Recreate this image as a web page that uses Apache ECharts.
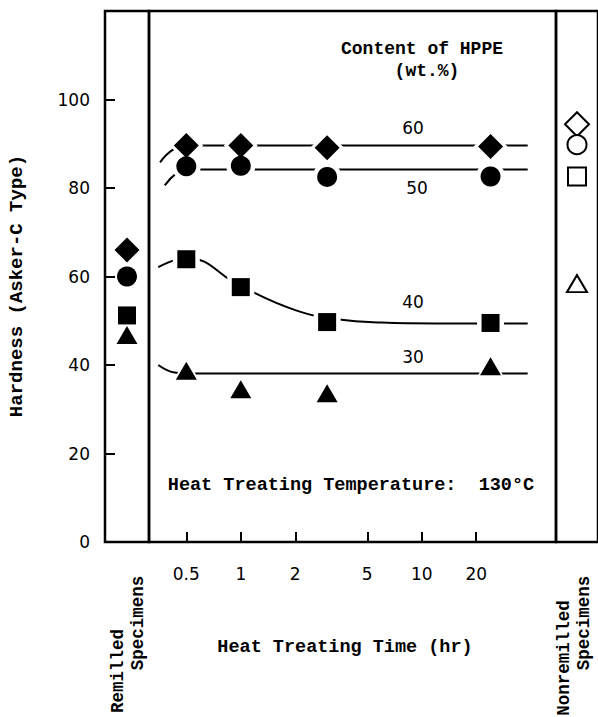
<!DOCTYPE html>
<html>
<head>
<meta charset="utf-8">
<script src="https://cdn.jsdelivr.net/npm/echarts@6/dist/echarts.min.js"></script>
<style>
  html, body { margin: 0; padding: 0; background: #fff; }
  #chart { width: 598px; height: 717px; }
</style>
</head>
<body>
<div id="chart"></div>
<script>
// HPPE content series, in the order 60, 50, 40, 30 wt.%
const contents = ['60', '50', '40', '30'];

// Heat treating times (hr) and hardness (Asker-C) at 130 °C
const times = [0.5, 1, 3, 24];
const hardness60 = [89.6, 89.6, 89.1, 89.4];
const hardness50 = [84.9, 85.0, 82.5, 82.6];
const hardness40 = [63.9, 57.6, 49.7, 49.5];
const hardness30 = [38.7, 34.5, 33.6, 39.7];

// Remilled specimens (before heat treating) and nonremilled specimens
const remilled = [66, 60, 51.2, 46.8];
const nonremilled = [94.4, 89.8, 82.6, 58.4];

// Hand-drawn trend curves: [time (hr), hardness]
const curve60 = [[0.358, 85.8], [0.42, 88.6], [0.5, 89.6], [1, 89.6], [3, 89.6], [24, 89.6], [38.5, 89.6]];
const curve50 = [[0.38, 80.6], [0.44, 83.3], [0.5, 84.2], [1, 84.2], [3, 84.2], [24, 84.2], [38.5, 84.2]];
const curve40 = [[0.35, 62.1], [0.5, 64.2], [1, 57.8], [2, 52.4], [3.5, 50.3], [6, 49.6], [12, 49.4], [38.5, 49.4]];
const curve30 = [[0.35, 40.0], [0.43, 38.3], [0.5, 38.1], [3, 38.1], [24, 38.1], [38.5, 38.1]];

// Axis ticks
const timeTicks = [0.5, 1, 2, 5, 10, 20];
const hardnessTicks = [0, 20, 40, 60, 80, 100];

const MONO = '"Liberation Mono", "DejaVu Sans Mono", monospace';
const SANS = '"DejaVu Sans", "Noto Sans", sans-serif';

const symbols = ['diamond', 'circle', 'rect', 'triangle'];
const solidSizes = [[25, 25], [20, 20], [18, 18], [21, 18]];
const hollowSizes = [[24, 24], [19, 19], [18, 18], [20, 17]];
const timeSeries = [hardness60, hardness50, hardness40, hardness30];
const curves = [curve60, curve50, curve40, curve30];

const series = [];

// trend curves in the heat-treating panel
curves.forEach((c, i) => {
  series.push({
    name: 'curve ' + contents[i],
    type: 'line',
    xAxisIndex: 1, yAxisIndex: 1,
    data: c,
    smooth: 0.45,
    showSymbol: false,
    silent: true,
    lineStyle: { color: '#000', width: 2 },
    z: 1
  });
});

// white halos that break the curves around each marker
timeSeries.forEach((vals, i) => {
  series.push({
    name: 'halo ' + contents[i],
    type: 'scatter',
    xAxisIndex: 1, yAxisIndex: 1,
    data: times.map((t, k) => [t, vals[k]]),
    symbol: symbols[i],
    symbolSize: [solidSizes[i][0] + 9, solidSizes[i][1] + 9],
    itemStyle: { color: '#fff', opacity: 1 },
    silent: true,
    z: 2
  });
});

// measured points vs heat treating time
timeSeries.forEach((vals, i) => {
  series.push({
    name: contents[i] + ' wt.%',
    type: 'scatter',
    xAxisIndex: 1, yAxisIndex: 1,
    data: times.map((t, k) => [t, vals[k]]),
    symbol: symbols[i],
    symbolSize: solidSizes[i],
    itemStyle: { color: '#000', opacity: 1 },
    z: 3
  });
});

// remilled specimens (left panel)
remilled.forEach((v, i) => {
  series.push({
    name: 'remilled ' + contents[i],
    type: 'scatter',
    xAxisIndex: 0, yAxisIndex: 0,
    data: [[0.5, v]],
    symbol: symbols[i],
    symbolSize: solidSizes[i],
    itemStyle: { color: '#000', opacity: 1 },
    z: 3
  });
});

// nonremilled specimens (right panel), open symbols
nonremilled.forEach((v, i) => {
  series.push({
    name: 'nonremilled ' + contents[i],
    type: 'scatter',
    xAxisIndex: 2, yAxisIndex: 2,
    data: [[0.5, v]],
    symbol: symbols[i],
    symbolSize: hollowSizes[i],
    itemStyle: { color: '#fff', borderColor: '#000', borderWidth: 2, opacity: 1 },
    z: 3
  });
});

const gridBase = { top: 11, height: 531, show: true, borderColor: '#000', borderWidth: 2.5, backgroundColor: 'transparent' };

const hiddenY = (idx) => ({
  type: 'value', gridIndex: idx, min: 0, max: 120, interval: 20,
  axisLine: { show: false }, axisTick: { show: false }, axisLabel: { show: false }, splitLine: { show: false }
});
const panelX = (idx) => ({
  type: 'value', gridIndex: idx, min: 0, max: 1, show: false, splitLine: { show: false }
});

const label = (x, y, text, font, rotated) => ({
  type: 'text', x: x, y: y, rotation: rotated ? Math.PI / 2 : 0, silent: true,
  style: { text: text, font: font, fill: '#000', align: 'center', verticalAlign: 'middle' }
});

const option = {
  backgroundColor: '#fff',
  animation: false,
  grid: [
    Object.assign({ left: 105, width: 44 }, gridBase),
    Object.assign({ left: 149, width: 407 }, gridBase),
    Object.assign({ left: 556, width: 46 }, gridBase)
  ],
  xAxis: [
    panelX(0),
    {
      type: 'log', gridIndex: 1, logBase: 10, min: 0.311, max: 55.2,
      axisLine: { show: false },
      axisTick: { show: true, inside: true, length: 10, customValues: timeTicks, lineStyle: { color: '#000', width: 2 } },
      axisLabel: {
        show: true, customValues: timeTicks, margin: 23,
        color: '#000', fontFamily: SANS, fontSize: 17,
        formatter: (v) => String(+Number(v).toPrecision(3))
      },
      splitLine: { show: false },
      minorTick: { show: false }
    },
    panelX(2)
  ],
  yAxis: [
    {
      type: 'value', gridIndex: 0, min: 0, max: 120, interval: 20,
      axisLine: { show: false },
      axisTick: { show: true, inside: true, length: 10, customValues: hardnessTicks, lineStyle: { color: '#000', width: 2 } },
      axisLabel: { show: true, customValues: hardnessTicks, margin: 15, color: '#000', fontFamily: SANS, fontSize: 17 },
      splitLine: { show: false }
    },
    hiddenY(1),
    hiddenY(2)
  ],
  graphic: [
    label(17, 286, 'Hardness (Asker-C Type)', 'bold 19px ' + MONO, true),
    label(422, 49, 'Content of HPPE', 'bold 18px ' + MONO),
    label(427, 71, '(wt.%)', 'bold 18px ' + MONO),
    label(351, 485, 'Heat Treating Temperature:  130°C', 'bold 18.5px ' + MONO),
    label(345, 647, 'Heat Treating Time (hr)', 'bold 18.5px ' + MONO),
    label(118, 671, 'Remilled', 'bold 17.5px ' + MONO, true),
    label(138, 623, 'Specimens', 'bold 17.5px ' + MONO, true),
    label(564, 658, 'Nonremilled', 'bold 17.5px ' + MONO, true),
    label(584, 623, 'Specimens', 'bold 17.5px ' + MONO, true),
    label(413, 128, contents[0], '17px ' + SANS),
    label(417, 188, contents[1], '17px ' + SANS),
    label(413, 302, contents[2], '17px ' + SANS),
    label(413, 357, contents[3], '17px ' + SANS)
  ],
  series: series
};

const chart = echarts.init(document.getElementById('chart'), null, { renderer: 'svg' });
chart.setOption(option);
</script>
</body>
</html>
